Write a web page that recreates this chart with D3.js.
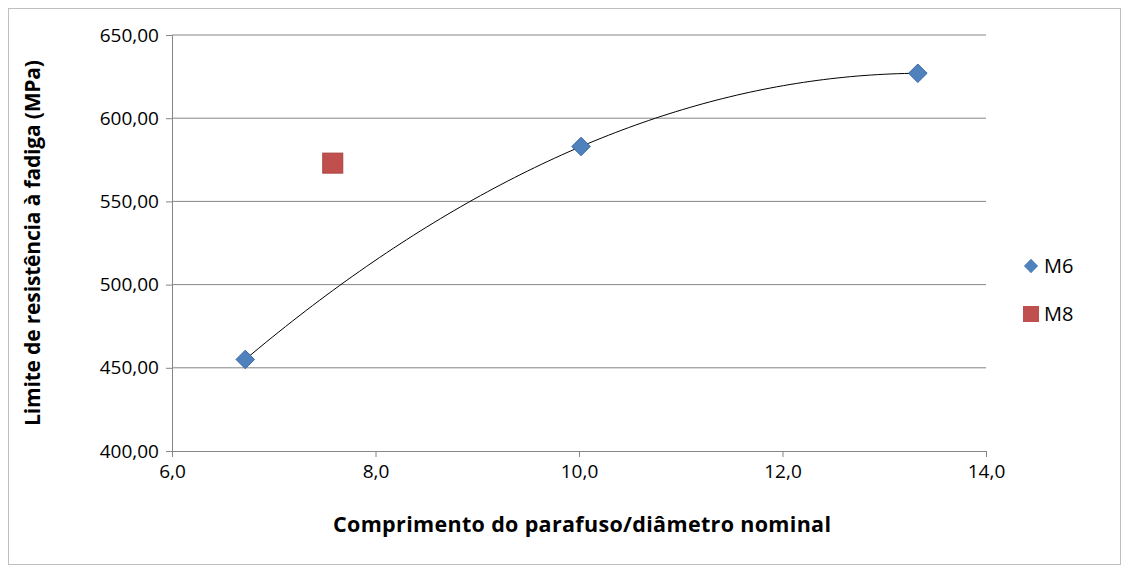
<!DOCTYPE html>
<html><head><meta charset="utf-8">
<script src="https://cdn.jsdelivr.net/npm/d3@7"></script>
<style>body{margin:0;background:#fff}text{font-family:"Open Sans","Liberation Sans",sans-serif}</style>
</head><body><svg id="c" width="1128" height="571"></svg>
<script>
const m6X = [6.72, 10.02, 13.33];
const m6Y = [455, 583, 627];
const m8X = [7.58];
const m8Y = [573];
const xTicks = [6, 8, 10, 12, 14];
const yTicks = [400, 450, 500, 550, 600, 650];

const svg = d3.select("#c");
svg.append("rect").attr("x", 8.5).attr("y", 8.5).attr("width", 1112).attr("height", 556)
  .attr("fill", "none").attr("stroke", "#bfbfbf");

const x = d3.scaleLinear().domain([6, 14]).range([172, 986]);
const y = d3.scaleLinear().domain([400, 650]).range([451, 35]);
const fmt = d => d.toFixed(d >= 100 ? 2 : 1).replace(".", ",");

svg.append("g").selectAll("line").data(yTicks.slice(1)).enter().append("line")
  .attr("x1", x(6)).attr("x2", x(14)).attr("y1", d => y(d)).attr("y2", d => y(d))
  .attr("stroke", "#868686");

const ax = svg.append("g").attr("transform", "translate(0,451)")
  .call(d3.axisBottom(x).tickValues(xTicks).tickFormat(fmt).tickSize(6).tickPadding(8));
const ay = svg.append("g").attr("transform", "translate(172,0)")
  .call(d3.axisLeft(y).tickValues(yTicks).tickFormat(fmt).tickSize(6).tickPadding(7));
[ax, ay].forEach(g => {
  g.selectAll("path,line").attr("stroke", "#868686");
  g.selectAll("text").attr("font-size", 19).attr("fill", "#000");
});

// quadratic trendline through M6 points (Lagrange)
function quad(t) {
  let s = 0;
  for (let i = 0; i < 3; i++) {
    let p = m6Y[i];
    for (let j = 0; j < 3; j++) if (j !== i) p *= (t - m6X[j]) / (m6X[i] - m6X[j]);
    s += p;
  }
  return s;
}
const ts = d3.range(0, 101).map(i => m6X[0] + (m6X[2] - m6X[0]) * i / 100);
svg.append("path").attr("d", d3.line().x(d => x(d)).y(d => y(quad(d)))(ts))
  .attr("fill", "none").attr("stroke", "#000").attr("stroke-width", 1);

const diamond = d3.symbol().type(d3.symbolDiamond2).size(220);
svg.append("g").selectAll("path").data(m6X).enter().append("path")
  .attr("d", diamond).attr("transform", (d, i) => `translate(${x(d)},${y(m6Y[i])})`)
  .attr("fill", "#4f81bd").attr("stroke", "#3d6ba3");
svg.append("g").selectAll("rect").data(m8X).enter().append("rect")
  .attr("x", d => x(d) - 10).attr("y", (d, i) => y(m8Y[i]) - 10).attr("width", 20).attr("height", 20)
  .attr("fill", "#c0504d").attr("stroke", "#a9403d");

svg.append("text").attr("x", 582).attr("y", 532).attr("text-anchor", "middle")
  .attr("font-size", 21.5).attr("font-weight", "bold").attr("textLength", 498)
  .text("Comprimento do parafuso/diâmetro nominal");
svg.append("text").attr("transform", "translate(40,243) rotate(-90)").attr("text-anchor", "middle")
  .attr("font-size", 21).attr("font-weight", "bold").attr("textLength", 366)
  .text("Limite de resistência à fadiga (MPa)");

const lg = svg.append("g");
lg.append("path").attr("d", d3.symbol().type(d3.symbolDiamond2).size(130))
  .attr("transform", "translate(1031,266)").attr("fill", "#4f81bd");
lg.append("text").attr("x", 1044).attr("y", 273).attr("font-size", 20).text("M6");
lg.append("rect").attr("x", 1023).attr("y", 306).attr("width", 16).attr("height", 16).attr("fill", "#c0504d");
lg.append("text").attr("x", 1044).attr("y", 321).attr("font-size", 20).text("M8");
</script></body></html>
